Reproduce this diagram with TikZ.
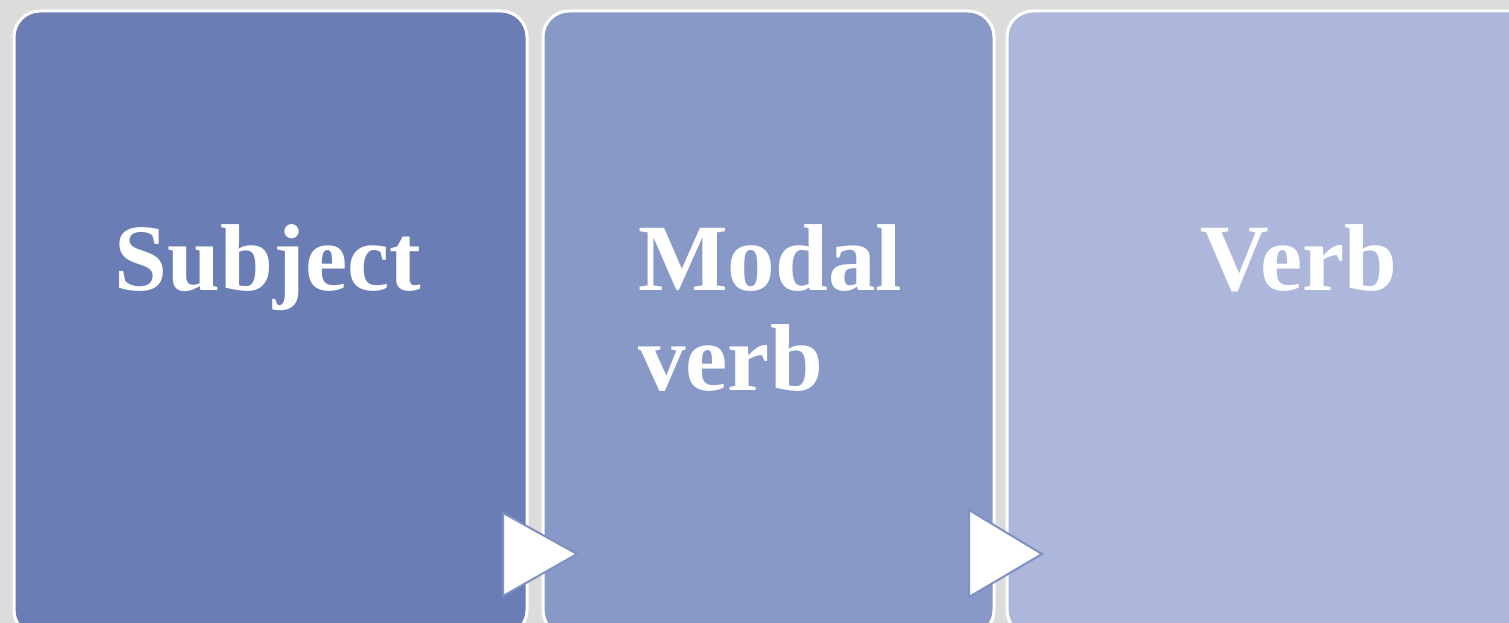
\documentclass[tikz,border=0pt]{standalone}
\usepackage{fontspec}
\setmainfont{Liberation Serif}
\definecolor{bg}{HTML}{DCDCDC}
\definecolor{cA}{HTML}{6A7DB5}
\definecolor{cB}{HTML}{8899C8}
\definecolor{cC}{HTML}{ADB7DB}
\definecolor{arrline}{HTML}{7F90C4}
\tikzset{
  panel/.style={draw=white, line width=3pt, rounded corners=26pt, anchor=north west, inner sep=0pt},
  label/.style={text=white, font=\fontsize{95}{100}\selectfont\bfseries, inner sep=0pt, anchor=base},
  chevron/.style={fill=white, draw=arrline, line width=2pt, line join=miter}
}
\begin{document}
\begin{tikzpicture}[x=1pt,y=-1pt]
\useasboundingbox (0,0) rectangle (1509,623);
\clip (0,0) rectangle (1509,623);
\fill[bg] (0,0) rectangle (1509,623);
\node[panel, fill=cA, minimum width=513pt, minimum height=625pt] (b1) at (12.5,9.5) {};
\node[panel, fill=cB, minimum width=451pt, minimum height=625pt] (b2) at (541.5,9.5) {};
\node[panel, fill=cC, minimum width=530pt, minimum height=625pt] (b3) at (1005.5,9.5) {};
\node[label] (t1) at (268,290) {Subject};
\node[label, align=left, anchor=base west] (t2) at (638,390) {Modal\\verb};
\node[label] (t3) at (1299,290) {Verb};
\coordinate (a1t) at (503,513);
\coordinate (a1b) at (503,596);
\coordinate (a1p) at (577,554);
\draw[chevron] (a1t) -- (a1p) -- (a1b) -- cycle;
\coordinate (a2t) at (969,510);
\coordinate (a2b) at (969,597);
\coordinate (a2p) at (1042,554);
\draw[chevron] (a2t) -- (a2p) -- (a2b) -- cycle;
\end{tikzpicture}
\end{document}
